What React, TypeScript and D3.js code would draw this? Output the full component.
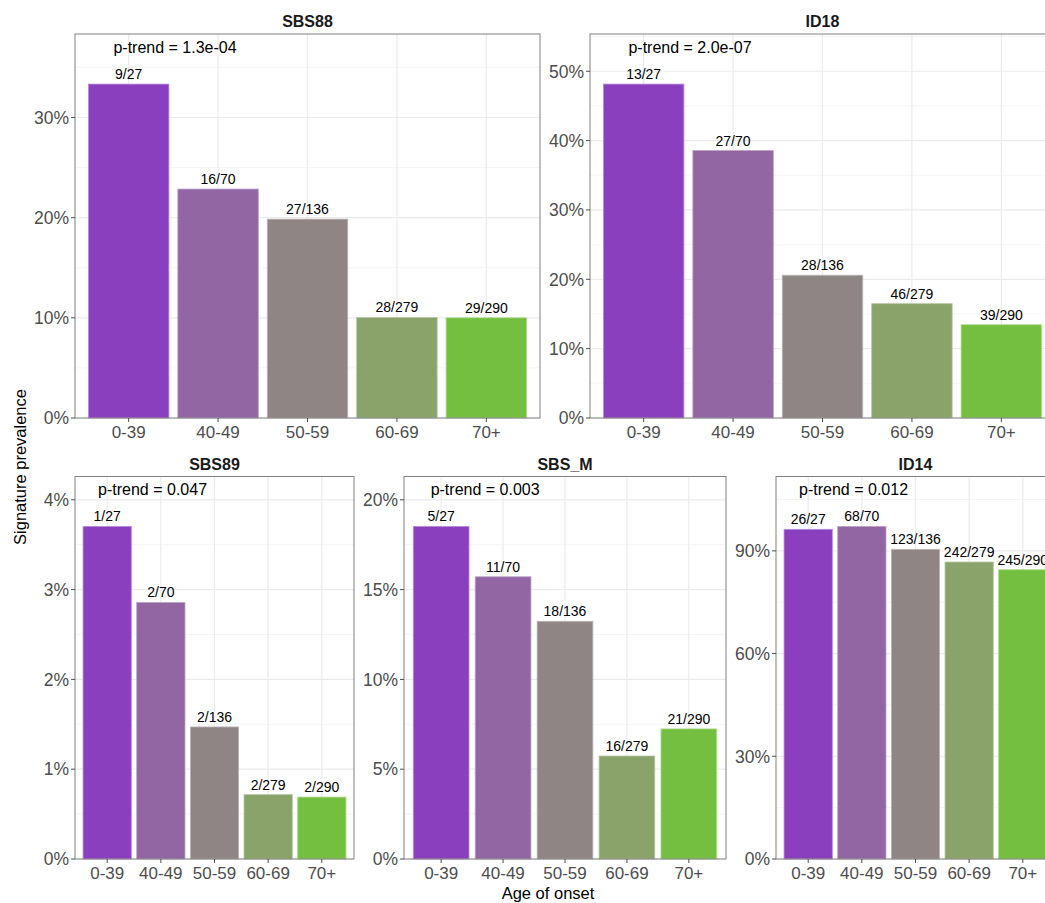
import React, { useEffect } from 'react';
import * as d3 from 'd3';

// Age-of-onset groups shared by every panel
const ageGroups = ['0-39', '40-49', '50-59', '60-69', '70+'];
const groupTotals = [27, 70, 136, 279, 290];
const barColors = ['#8A3FBE', '#9166A3', '#8F8585', '#89A36A', '#74BF3F'];

// Signature-positive counts per age group
const signatures = ['SBS88', 'ID18', 'SBS89', 'SBS_M', 'ID14'];
const sbs88Counts = [9, 16, 27, 28, 29];
const id18Counts = [13, 27, 28, 46, 39];
const sbs89Counts = [1, 2, 2, 2, 2];
const sbsMCounts = [5, 11, 18, 16, 21];
const id14Counts = [26, 68, 123, 242, 245];
const pTrends = ['1.3e-04', '2.0e-07', '0.047', '0.003', '0.012'];
const tickSteps = [0.1, 0.1, 0.01, 0.05, 0.3];

const countsBySignature = [sbs88Counts, id18Counts, sbs89Counts, sbsMCounts, id14Counts];

// Panel frames (pixel layout of the facet grid)
const frames = [
  { x0: 75, x1: 540, y0: 34, y1: 418 },
  { x0: 590, x1: 1055, y0: 34, y1: 418 },
  { x0: 75, x1: 354, y0: 476.5, y1: 859 },
  { x0: 404, x1: 726, y0: 476.5, y1: 859 },
  { x0: 776, x1: 1055, y0: 476.5, y1: 859 },
];

const FONT = '"Liberation Sans", Arial, Helvetica, sans-serif';
const pct = d3.format('.0%');

function Panel({ idx }: { idx: number }) {
  const f = frames[idx];
  const counts = countsBySignature[idx];
  const values = counts.map((c, i) => c / groupTotals[i]);
  const yMax = (d3.max(values) as number) * 1.15;

  const x = d3.scaleBand<string>().domain(ageGroups).range([f.x0, f.x1]).paddingInner(0.1).paddingOuter(0.15);
  const y = d3.scaleLinear().domain([0, yMax]).range([f.y1, f.y0]);

  const step = tickSteps[idx];
  const major = d3.range(0, yMax + 1e-9, step);
  const minor = d3.range(step / 2, yMax + 1e-9, step);
  const bw = x.bandwidth();

  return (
    <g>
      <rect x={f.x0} y={f.y0} width={f.x1 - f.x0} height={f.y1 - f.y0} fill="#fff" />
      {minor.map((t) => (
        <line key={'mi' + t} x1={f.x0} x2={f.x1} y1={y(t)} y2={y(t)} stroke="#F3F3F3" strokeWidth={0.8} />
      ))}
      {major.map((t) => (
        <line key={'ma' + t} x1={f.x0} x2={f.x1} y1={y(t)} y2={y(t)} stroke="#EBEBEB" strokeWidth={1.2} />
      ))}
      {ageGroups.map((g) => (
        <line key={'v' + g} x1={(x(g) as number) + bw / 2} x2={(x(g) as number) + bw / 2} y1={f.y0} y2={f.y1} stroke="#EBEBEB" strokeWidth={1.2} />
      ))}
      {ageGroups.map((g, i) => (
        <rect
          key={'b' + g}
          x={x(g)}
          y={y(values[i])}
          width={bw}
          height={y(0) - y(values[i])}
          fill={barColors[i]}
          stroke={d3.interpolateRgb(barColors[i], '#ffffff')(0.4)}
          strokeWidth={0.8}
        />
      ))}
      {ageGroups.map((g, i) => (
        <text
          key={'l' + g}
          x={(x(g) as number) + bw / 2}
          y={y(values[i]) - 5}
          textAnchor="middle"
          fontSize={14}
          fill="#000"
        >
          {counts[i] + '/' + groupTotals[i]}
        </text>
      ))}
      <text x={f.x0 + 0.43 * x.step()} y={f.y0 + 18.5} fontSize={16} fill="#000">
        {'p-trend = ' + pTrends[idx]}
      </text>
      <rect x={f.x0} y={f.y0} width={f.x1 - f.x0} height={f.y1 - f.y0} fill="none" stroke="#808080" strokeWidth={1} />
      {/* y axis */}
      {major.map((t) => (
        <g key={'yt' + t}>
          <line x1={f.x0 - 4} x2={f.x0} y1={y(t)} y2={y(t)} stroke="#4D4D4D" strokeWidth={1} />
          <text x={f.x0 - 6} y={y(t)} dy="0.36em" textAnchor="end" fontSize={17.5} fill="#4D4D4D">
            {pct(t)}
          </text>
        </g>
      ))}
      {/* x axis */}
      {ageGroups.map((g) => (
        <g key={'xt' + g}>
          <line x1={(x(g) as number) + bw / 2} x2={(x(g) as number) + bw / 2} y1={f.y1} y2={f.y1 + 4} stroke="#4D4D4D" strokeWidth={1} />
          <text x={(x(g) as number) + bw / 2} y={f.y1 + 20} textAnchor="middle" fontSize={17} fill="#4D4D4D">
            {g}
          </text>
        </g>
      ))}
      <text x={(f.x0 + f.x1) / 2} y={f.y0 - 7} textAnchor="middle" fontSize={16} fontWeight="bold" fill="#1a1a1a">
        {signatures[idx]}
      </text>
    </g>
  );
}

export default function App() {
  useEffect(() => {
    document.body.style.margin = '0';
  }, []);
  return (
    <svg width={1045} height={903} style={{ display: 'block', fontFamily: FONT, background: '#fff' }}>
      <rect width={1045} height={903} fill="#fff" />
      {signatures.map((s, i) => (
        <Panel key={s} idx={i} />
      ))}
      <text x={548} y={899} textAnchor="middle" fontSize={16.5} fill="#000">
        Age of onset
      </text>
      <text transform="translate(26,467) rotate(-90)" textAnchor="middle" fontSize={16.5} fill="#000">
        Signature prevalence
      </text>
    </svg>
  );
}
